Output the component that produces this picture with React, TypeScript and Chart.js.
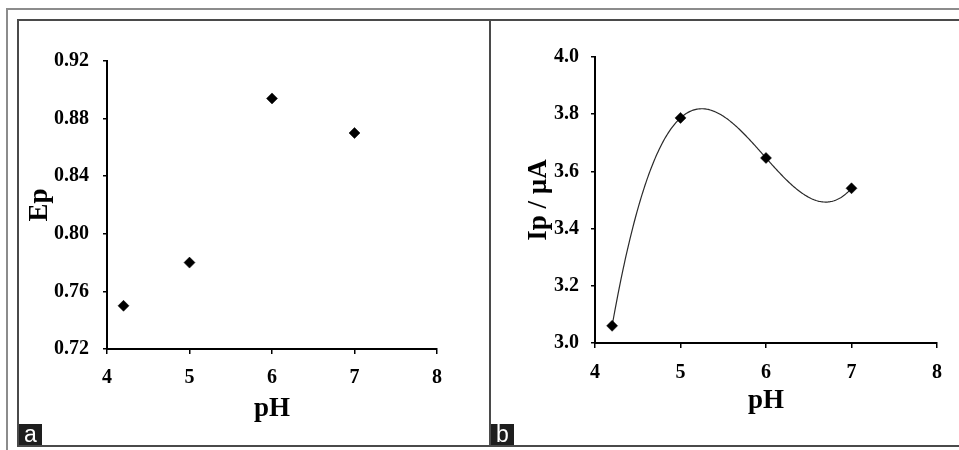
import React, { useEffect, useRef } from "react";
import { Chart, registerables } from "chart.js";

Chart.register(...registerables);

// ---- Data ----
const pHValues = [4.2, 5, 6, 7];
const epValues = [0.75, 0.78, 0.894, 0.87];
const ipValues = [3.06, 3.787, 3.647, 3.541];

const xTickValues = [4, 5, 6, 7, 8];
const epTickValues = [0.72, 0.76, 0.8, 0.84, 0.88, 0.92];
const ipTickValues = [3.0, 3.2, 3.4, 3.6, 3.8, 4.0];

const xTitle = "pH";
const epTitle = "Ep";
const ipTitle = "Ip / µA";

// least-squares polynomial fit (Excel-style polynomial trendline)
function polyfit(xs: number[], ys: number[], order: number): number[] {
  const n = order + 1;
  const A: number[][] = [];
  for (let i = 0; i < n; i++) {
    const row: number[] = [];
    for (let j = 0; j < n; j++) {
      let s = 0;
      for (let k = 0; k < xs.length; k++) s += Math.pow(xs[k], i + j);
      row.push(s);
    }
    let b = 0;
    for (let k = 0; k < xs.length; k++) b += ys[k] * Math.pow(xs[k], i);
    row.push(b);
    A.push(row);
  }
  for (let c = 0; c < n; c++) {
    let p = c;
    for (let r = c + 1; r < n; r++) if (Math.abs(A[r][c]) > Math.abs(A[p][c])) p = r;
    [A[c], A[p]] = [A[p], A[c]];
    for (let r = 0; r < n; r++) {
      if (r === c) continue;
      const f = A[r][c] / A[c][c];
      for (let k = c; k <= n; k++) A[r][k] -= f * A[c][k];
    }
  }
  return A.map((row, i) => row[n] / row[i]);
}

const trendlinePlugin = {
  id: "polyTrend",
  beforeDatasetsDraw(chart: any, _args: any, opts: any) {
    if (!opts || !opts.enabled) return;
    const pts = chart.data.datasets[0].data as { x: number; y: number }[];
    const xs = pts.map((p) => p.x);
    const ys = pts.map((p) => p.y);
    const coef = polyfit(xs, ys, opts.order || 3);
    const xs0 = chart.scales.x;
    const ys0 = chart.scales.y;
    const p0 = xs0.getPixelForValue(Math.min(...xs));
    const p1 = xs0.getPixelForValue(Math.max(...xs));
    const ctx = chart.ctx;
    ctx.save();
    ctx.beginPath();
    for (let px = p0; px <= p1 + 0.01; px += 1) {
      const v = xs0.getValueForPixel(Math.min(px, p1));
      let y = 0;
      for (let i = 0; i < coef.length; i++) y += coef[i] * Math.pow(v, i);
      const py = ys0.getPixelForValue(y);
      if (px === p0) ctx.moveTo(px, py);
      else ctx.lineTo(Math.min(px, p1), py);
    }
    ctx.strokeStyle = opts.color || "#222";
    ctx.lineWidth = opts.width || 1.2;
    ctx.stroke();
    ctx.restore();
  },
};

const serif = "'Liberation Serif', 'Times New Roman', serif";

interface PanelCfg {
  width: number;
  height: number;
  area: { left: number; right: number; top: number; bottom: number };
  yValues: number[];
  yTicks: number[];
  yDecimals: number;
  yTitle: string;
  yTitlePad: number;
  yLabelPad: number;
  xLabelPad: number;
  xTitlePad: number;
  trend: boolean;
}

function makeConfig(c: PanelCfg): any {
  const xHeight = 80;
  return {
    type: "scatter",
    data: {
      datasets: [
        {
          data: pHValues.map((x, i) => ({ x, y: c.yValues[i] })),
          pointStyle: "rectRot",
          pointRadius: 5.5,
          backgroundColor: "#000",
          borderColor: "#000",
          borderWidth: 0.5,
          showLine: false,
        },
      ],
    },
    plugins: [trendlinePlugin],
    options: {
      animation: false,
      responsive: false,
      devicePixelRatio: 1,
      events: [],
      layout: {
        padding: {
          left: 0,
          top: c.area.top,
          right: c.width - c.area.right,
          bottom: c.height - c.area.bottom - xHeight,
        },
      },
      plugins: {
        legend: { display: false },
        tooltip: { enabled: false },
        polyTrend: { enabled: c.trend, order: 3, color: "#2a2a2a", width: 1.2 },
      },
      scales: {
        x: {
          type: "linear",
          min: 4,
          max: 8,
          afterBuildTicks: (s: any) => {
            s.ticks = xTickValues.map((v) => ({ value: v }));
          },
          afterFit: (s: any) => {
            s.height = xHeight;
          },
          ticks: {
            color: "#000",
            padding: c.xLabelPad,
            font: { family: serif, weight: "bold", size: 20, lineHeight: 1.2 },
            callback: (v: any) => String(v),
            maxRotation: 0,
          },
          grid: {
            display: true,
            drawOnChartArea: false,
            drawTicks: true,
            tickLength: 5,
            color: "#000",
            lineWidth: 1.5,
          },
          border: { display: true, color: "#000", width: 2 },
          title: {
            display: true,
            text: xTitle,
            color: "#000",
            font: { family: serif, weight: "bold", size: 27, lineHeight: 1 },
            padding: { top: 0, bottom: c.xTitlePad },
          },
        },
        y: {
          type: "linear",
          min: c.yTicks[0],
          max: c.yTicks[c.yTicks.length - 1],
          afterBuildTicks: (s: any) => {
            s.ticks = c.yTicks.map((v) => ({ value: v }));
          },
          afterFit: (s: any) => {
            s.width = c.area.left;
          },
          ticks: {
            color: "#000",
            padding: c.yLabelPad,
            font: { family: serif, weight: "bold", size: 20, lineHeight: 1.2 },
            callback: (v: any) => Number(v).toFixed(c.yDecimals),
          },
          grid: {
            display: true,
            drawOnChartArea: false,
            drawTicks: true,
            tickLength: 4,
            color: "#000",
            lineWidth: 1.5,
          },
          border: { display: true, color: "#000", width: 2 },
          title: {
            display: true,
            text: c.yTitle,
            color: "#000",
            font: { family: serif, weight: "bold", size: 27, lineHeight: 1 },
            padding: { top: c.yTitlePad, bottom: 0 },
          },
        },
      },
    },
  };
}

function Panel({ cfg, style }: { cfg: PanelCfg; style: React.CSSProperties }) {
  const ref = useRef<HTMLCanvasElement | null>(null);
  useEffect(() => {
    if (!ref.current) return;
    const chart = new Chart(ref.current, makeConfig(cfg));
    return () => chart.destroy();
  }, []);
  return (
    <canvas
      ref={ref}
      width={cfg.width}
      height={cfg.height}
      style={{ position: "absolute", width: cfg.width, height: cfg.height, ...style }}
    />
  );
}

const panelA: PanelCfg = {
  width: 470,
  height: 424,
  area: { left: 88, right: 418, top: 40, bottom: 328 },
  yValues: epValues,
  yTicks: epTickValues,
  yDecimals: 2,
  yTitle: epTitle,
  yTitlePad: 8,
  yLabelPad: 14,
  xLabelPad: 12,
  xTitlePad: 6,
  trend: false,
};

const panelB: PanelCfg = {
  width: 468,
  height: 424,
  area: { left: 104, right: 446, top: 36, bottom: 322 },
  yValues: ipValues,
  yTicks: ipTickValues,
  yDecimals: 1,
  yTitle: ipTitle,
  yTitlePad: 35,
  yLabelPad: 12,
  xLabelPad: 13,
  xTitlePad: 8,
  trend: true,
};

const labelBox: React.CSSProperties = {
  position: "absolute",
  width: 23,
  height: 21,
  background: "#1e1e1e",
  color: "#fff",
  fontFamily: "'Liberation Sans', Arial, sans-serif",
  fontSize: 23,
  lineHeight: "20px",
  textAlign: "center",
};

export default function App() {
  return (
    <div
      style={{
        position: "absolute",
        left: 0,
        top: 0,
        width: 959,
        height: 450,
        background: "#fff",
        overflow: "hidden",
      }}
    >
      <div
        style={{
          position: "absolute",
          left: 6,
          top: 8,
          width: 960,
          height: 450,
          borderTop: "2px solid #8c8c8c",
          borderLeft: "2px solid #8c8c8c",
          boxSizing: "border-box",
        }}
      />
      <div
        style={{
          position: "absolute",
          left: 17,
          top: 19,
          width: 473,
          height: 428,
          border: "2px solid #4a4a4a",
          borderRight: "none",
          boxSizing: "border-box",
          background: "#fff",
        }}
      />
      <div
        style={{
          position: "absolute",
          left: 489,
          top: 19,
          width: 475,
          height: 428,
          border: "2px solid #4a4a4a",
          borderRight: "none",
          boxSizing: "border-box",
          background: "#fff",
        }}
      />
      <Panel cfg={panelA} style={{ left: 19, top: 21 }} />
      <Panel cfg={panelB} style={{ left: 491, top: 21 }} />
      <div style={{ ...labelBox, left: 19, top: 424 }}>a</div>
      <div style={{ ...labelBox, left: 491, top: 424 }}>b</div>
    </div>
  );
}
